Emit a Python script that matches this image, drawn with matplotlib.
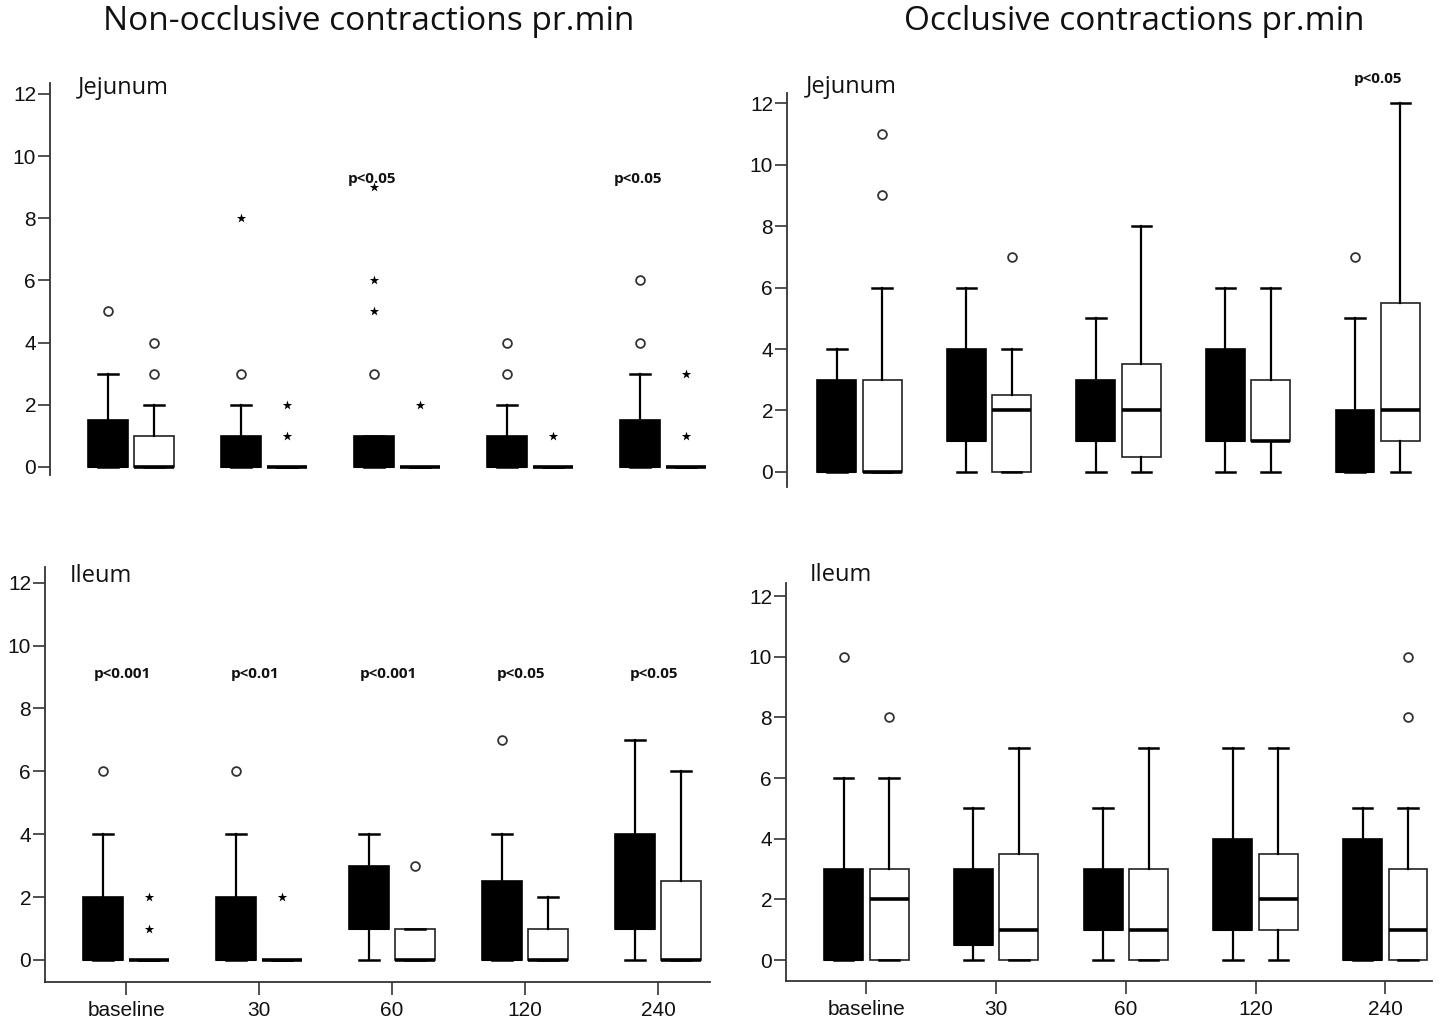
import matplotlib
matplotlib.use("Agg")
import matplotlib.pyplot as plt

groups = ['baseline', '30', '60', '120', '240']

# box stats per group: (whislo, q1, med, q3, whishi)
nonocc_jej_black = [(0, 0, 0, 1.5, 3), (0, 0, 0, 1, 2), (0, 0, 0, 1, 1), (0, 0, 0, 1, 2), (0, 0, 0, 1.5, 3)]
nonocc_jej_white = [(0, 0, 0, 1, 2), (0, 0, 0, 0, 0), (0, 0, 0, 0, 0), (0, 0, 0, 0, 0), (0, 0, 0, 0, 0)]
nonocc_jej_black_out = [[5], [3], [3], [3, 4], [4, 6]]
nonocc_jej_black_ext = [[], [8], [5, 6, 9], [], []]
nonocc_jej_white_out = [[3, 4], [], [], [], []]
nonocc_jej_white_ext = [[], [1, 2], [2], [1], [1, 3]]
nonocc_jej_p = ['', '', 'p<0.05', '', 'p<0.05']

occ_jej_black = [(0, 0, 0, 3, 4), (0, 1, 1, 4, 6), (0, 1, 1, 3, 5), (0, 1, 1, 4, 6), (0, 0, 0, 2, 5)]
occ_jej_white = [(0, 0, 0, 3, 6), (0, 0, 2, 2.5, 4), (0, 0.5, 2, 3.5, 8), (0, 1, 1, 3, 6), (0, 1, 2, 5.5, 12)]
occ_jej_black_out = [[], [], [], [], [7]]
occ_jej_black_ext = [[], [], [], [], []]
occ_jej_white_out = [[9, 11], [7], [], [], []]
occ_jej_white_ext = [[], [], [], [], []]
occ_jej_p = ['', '', '', '', 'p<0.05']

nonocc_ile_black = [(0, 0, 0, 2, 4), (0, 0, 0, 2, 4), (0, 1, 1, 3, 4), (0, 0, 0, 2.5, 4), (0, 1, 1, 4, 7)]
nonocc_ile_white = [(0, 0, 0, 0, 0), (0, 0, 0, 0, 0), (0, 0, 0, 1, 1), (0, 0, 0, 1, 2), (0, 0, 0, 2.5, 6)]
nonocc_ile_black_out = [[6], [6], [], [7], []]
nonocc_ile_black_ext = [[], [], [], [], []]
nonocc_ile_white_out = [[], [], [3], [], []]
nonocc_ile_white_ext = [[1, 2], [2], [], [], []]
nonocc_ile_p = ['p<0.001', 'p<0.01', 'p<0.001', 'p<0.05', 'p<0.05']

occ_ile_black = [(0, 0, 0, 3, 6), (0, 0.5, 0.5, 3, 5), (0, 1, 1, 3, 5), (0, 1, 1, 4, 7), (0, 0, 0, 4, 5)]
occ_ile_white = [(0, 0, 2, 3, 6), (0, 0, 1, 3.5, 7), (0, 0, 1, 3, 7), (0, 1, 2, 3.5, 7), (0, 0, 1, 3, 5)]
occ_ile_black_out = [[10], [], [], [], []]
occ_ile_black_ext = [[], [], [], [], []]
occ_ile_white_out = [[8], [], [], [], [8, 10]]
occ_ile_white_ext = [[], [], [], [], []]
occ_ile_p = ['', '', '', '', '']

W, H = 1440, 1018
TEXT_FONT = 'Open Sans'
TICK_FONT = 'Liberation Sans'


def px_axes(fig, x0, y0, x1, y1):
    # pixel box (top-left origin) -> figure axes
    return fig.add_axes([x0 / W, 1 - y1 / H, (x1 - x0) / W, (y1 - y0) / H])


def make_stats(rows):
    return [dict(whislo=a, q1=b, med=c, q3=d, whishi=e) for a, b, c, d, e in rows]


def draw_panel(ax, black, white, b_out, b_ext, w_out, w_ext, pvals, p_y, p_dx,
               xlim, ylim, bottom_axis):
    pos = list(range(len(groups)))
    off, wid = 0.175, 0.30
    bpos = [p - off for p in pos]
    wpos = [p + off for p in pos]
    ax.bxp(make_stats(black), positions=bpos, widths=wid, patch_artist=True,
           showfliers=False, manage_ticks=False,
           boxprops=dict(facecolor='black', edgecolor='black', linewidth=1.2),
           whiskerprops=dict(color='black', linewidth=1.6),
           capprops=dict(color='black', linewidth=1.8),
           medianprops=dict(color='black', linewidth=1.5))
    ax.bxp(make_stats(white), positions=wpos, widths=wid, patch_artist=True,
           showfliers=False, manage_ticks=False,
           boxprops=dict(facecolor='white', edgecolor='#222222', linewidth=1.2),
           whiskerprops=dict(color='black', linewidth=1.6),
           capprops=dict(color='black', linewidth=1.8),
           medianprops=dict(color='black', linewidth=2.6))
    for xs, outs, exts in ((bpos, b_out, b_ext), (wpos, w_out, w_ext)):
        for x, o, e in zip(xs, outs, exts):
            if o:
                ax.scatter([x] * len(o), o, s=40, marker='o', facecolor='white',
                           edgecolor='#333333', linewidth=1.3, zorder=5, clip_on=False)
            if e:
                ax.scatter([x] * len(e), e, s=50, marker='*', color='black',
                           linewidth=0, zorder=5, clip_on=False)
    for i, t in enumerate(pvals):
        if t:
            ax.text(i + p_dx, p_y, t, ha='center', va='center', fontsize=11,
                    fontweight='bold', family=TEXT_FONT, color='#111111', clip_on=False)

    ax.set_xlim(*xlim)
    ax.set_ylim(*ylim)
    ax.set_yticks(range(0, 13, 2))
    for s in ('top', 'right'):
        ax.spines[s].set_visible(False)
    for s in ('left', 'bottom'):
        ax.spines[s].set_color('#333333')
        ax.spines[s].set_linewidth(1.3)
    ax.tick_params(axis='y', direction='out', length=9, width=1.2, color='#333333',
                   pad=1, labelsize=15)
    if bottom_axis:
        ax.set_xticks(pos)
        ax.set_xticklabels(groups)
        ax.tick_params(axis='x', direction='out', length=9, width=1.2, color='#333333',
                       pad=5, labelsize=15)
    else:
        ax.spines['bottom'].set_visible(False)
        ax.set_xticks([])
    for lab in ax.get_xticklabels() + ax.get_yticklabels():
        lab.set_family(TICK_FONT)
        lab.set_color('#111111')


fig = plt.figure(figsize=(W / 100, H / 100), dpi=100)

ax1 = px_axes(fig, 50, 83, 715, 475)
draw_panel(ax1, nonocc_jej_black, nonocc_jej_white, nonocc_jej_black_out, nonocc_jej_black_ext,
           nonocc_jej_white_out, nonocc_jej_white_ext, nonocc_jej_p, 9.25, -0.19,
           (-0.61, 4.39), (-0.26, 12.35), False)

ax2 = px_axes(fig, 787, 93, 1432, 487)
draw_panel(ax2, occ_jej_black, occ_jej_white, occ_jej_black_out, occ_jej_black_ext,
           occ_jej_white_out, occ_jej_white_ext, occ_jej_p, 12.8, 0.0,
           (-0.56, 4.42), (-0.49, 12.33), False)

ax3 = px_axes(fig, 45, 567, 710, 982)
draw_panel(ax3, nonocc_ile_black, nonocc_ile_white, nonocc_ile_black_out, nonocc_ile_black_ext,
           nonocc_ile_white_out, nonocc_ile_white_ext, nonocc_ile_p, 9.1, -0.03,
           (-0.61, 4.39), (-0.70, 12.5), True)

ax4 = px_axes(fig, 786, 583, 1432, 981)
draw_panel(ax4, occ_ile_black, occ_ile_white, occ_ile_black_out, occ_ile_black_ext,
           occ_ile_white_out, occ_ile_white_ext, occ_ile_p, 12.8, 0.0,
           (-0.62, 4.36), (-0.69, 12.43), True)

fig.text(369 / W, 1 - 22 / H, 'Non-occlusive contractions pr.min', ha='center', va='center',
         fontsize=24, family=TEXT_FONT, color='#111111')
fig.text(1134 / W, 1 - 22 / H, 'Occlusive contractions pr.min', ha='center', va='center',
         fontsize=24, family=TEXT_FONT, color='#111111')

for x, y, t in ((78, 88, 'Jejunum'), (806, 87, 'Jejunum'), (70, 576, 'Ileum'), (810, 575, 'Ileum')):
    fig.text(x / W, 1 - y / H, t, ha='left', va='center', fontsize=17,
             family=TEXT_FONT, color='#111111')

fig.savefig('out.png', dpi=100)
